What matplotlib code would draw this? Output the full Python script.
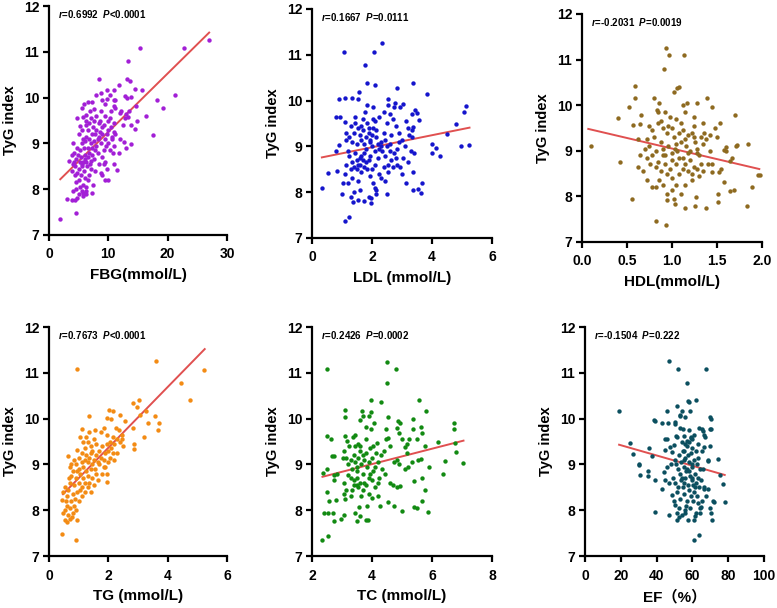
import matplotlib
matplotlib.use("Agg")
import matplotlib.pyplot as plt
import numpy as np

plt.rcParams['font.family'] = ['Liberation Sans', 'Noto Sans CJK SC', 'DejaVu Sans']
plt.rcParams['font.weight'] = 'bold'
plt.rcParams['mathtext.fontset'] = 'custom'
plt.rcParams['mathtext.it'] = 'Liberation Sans:italic:bold'
plt.rcParams['mathtext.rm'] = 'Liberation Sans:bold'
plt.rcParams['mathtext.bf'] = 'Liberation Sans:bold'

# ---- data: (x, TyG index) ----
fbg_points = [
    (27.0, 11.26), (22.8, 11.09), (15.4, 11.09), (13.3, 10.79), (8.5, 10.41), (13.2, 10.41), (13.7, 10.36),
    (21.2, 10.06), (18.2, 9.95), (19.3, 9.77), (15.6, 10.17), (14.5, 10.18), (11.8, 10.27), (10.9, 10.17),
    (9.7, 10.17), (9.8, 9.96), (10.9, 9.95), (12.8, 10.03), (13.1, 10.0), (13.9, 10.02), (14.6, 9.82),
    (12.9, 9.64), (13.3, 9.58), (16.3, 9.6), (14.8, 9.5), (13.9, 9.4), (14.5, 9.31), (17.5, 9.18),
    (13.8, 8.98), (12.7, 9.02), (11.5, 8.42), (9.5, 8.2), (12.0, 9.66), (10.9, 9.82), (11.2, 9.77),
    (7.9, 10.06), (6.6, 9.9), (7.2, 9.9), (5.5, 9.77), (5.8, 9.58), (4.8, 9.55), (5.2, 9.37), (6.2, 9.49),
    (1.86, 7.36), (4.56, 7.47), (3.0, 7.79), (3.8, 7.76), (4.4, 7.76), (3.3, 8.62), (5.7, 7.91), (7.3, 7.92),
    (6.2, 7.89),
    (8.8, 9.7), (9.5, 9.6), (10.2, 9.55), (11.0, 9.45), (10.5, 9.35), (9.2, 9.4), (8.4, 9.45), (7.6, 9.5),
    (7.0, 9.55), (6.8, 9.45), (7.4, 9.35), (8.0, 9.3), (8.6, 9.25), (9.0, 9.2), (9.8, 9.2), (10.6, 9.15),
    (11.2, 9.2), (9.4, 9.1), (8.2, 9.1), (7.5, 9.05), (6.8, 9.1), (6.2, 9.15), (5.8, 9.1), (6.0, 9.05),
    (5.5, 9.0), (7.0, 9.0), (8.8, 9.0), (10.0, 9.0), (11.0, 8.95), (10.3, 8.85), (9.2, 8.85), (8.3, 8.8),
    (7.2, 8.75), (6.5, 8.7), (6.0, 8.75), (5.4, 8.7), (4.9, 8.75), (4.2, 8.8), (4.6, 8.65), (5.2, 8.6),
    (5.7, 8.6), (6.3, 8.6), (7.0, 8.62), (7.6, 8.65), (8.4, 8.55), (9.0, 8.7), (9.5, 8.6), (10.8, 8.8),
    (11.0, 8.55), (9.8, 8.45), (8.7, 8.35), (7.8, 8.4), (7.0, 8.45), (6.4, 8.5), (5.6, 8.5), (5.0, 8.45),
    (4.4, 8.5), (4.0, 8.55), (4.8, 8.35), (5.4, 8.3), (6.0, 8.25), (6.8, 8.3), (5.0, 8.2), (4.5, 8.15),
    (5.7, 8.1), (6.3, 8.05), (5.2, 8.05), (4.6, 8.0), (4.0, 7.95), (5.0, 7.9), (5.5, 7.95), (6.6, 8.2),
    (7.4, 8.1), (4.3, 8.3), (3.8, 8.4), (4.2, 8.6), (3.9, 8.75), (4.1, 9.0), (5.0, 9.2), (5.6, 9.3),
    (6.6, 9.3), (7.2, 9.2), (8.0, 9.6), (8.6, 9.5), (9.0, 9.35), (10.0, 9.3), (11.0, 9.25), (6.3, 9.4),
    (5.9, 8.9), (6.6, 8.9), (7.3, 8.9), (8.0, 8.95), (9.6, 8.95), (10.6, 9.1), (5.3, 8.85), (4.7, 8.9),
    (6.9, 8.55), (5.9, 8.4), (6.1, 8.65), (5.5, 8.55), (6.7, 8.8), (7.8, 8.85), (8.5, 9.15), (9.9, 9.5),
    (8.9, 9.95), (9.5, 9.85), (10.4, 9.7), (11.2, 9.95), (12.2, 9.7), (12.5, 9.4), (12.0, 9.1), (11.8, 8.8),
    (13.0, 8.9), (12.8, 9.55), (13.5, 9.7), (10.2, 10.05), (8.8, 10.1), (7.6, 9.75), (6.9, 9.7), (6.2, 9.62),
    (5.9, 9.85), (7.8, 9.2), (9.3, 8.55), (8.9, 8.3), (10.0, 8.2), (6.2, 7.95), (5.7, 7.85), (4.8, 7.8),
]

ldl_points = [
    (1.07, 11.07), (2.07, 11.07), (2.34, 11.25), (1.76, 10.78), (1.85, 10.39), (2.1, 10.34), (3.36, 10.39),
    (3.82, 10.15), (2.85, 10.27), (0.9, 10.03), (1.09, 10.05), (1.32, 10.06), (1.52, 10.04), (1.57, 10.18),
    (0.81, 9.64), (0.93, 9.65), (1.09, 9.54), (0.35, 8.09), (0.54, 8.42), (0.8, 8.91), (0.9, 9.02),
    (0.85, 8.47), (1.0, 7.95), (1.09, 7.36), (1.24, 7.46), (1.37, 7.78), (1.54, 7.82), (1.74, 7.8),
    (1.96, 7.76), (1.98, 7.87), (2.15, 7.96), (2.51, 7.96), (3.38, 8.05), (3.55, 8.07), (3.68, 8.2),
    (3.65, 7.98), (3.15, 8.2), (4.01, 9.06), (4.01, 8.85), (4.28, 8.79), (4.12, 8.96), (4.49, 9.27),
    (4.97, 9.0), (5.24, 9.02), (4.8, 9.49), (5.07, 9.76), (5.12, 9.89), (3.42, 9.8), (3.49, 9.73),
    (3.58, 9.58), (3.36, 9.43), (3.33, 9.21), (3.39, 8.85), (3.36, 8.45), (3.04, 9.93), (2.76, 9.95),
    (2.52, 10.03),
    (1.15, 9.15), (1.25, 9.2), (1.35, 9.1), (1.45, 9.5), (1.55, 9.4), (1.62, 9.45), (1.7, 9.6), (1.78, 9.75),
    (1.85, 9.5), (1.9, 9.3), (1.95, 9.15), (2.0, 9.25), (2.05, 9.4), (2.1, 9.55), (2.15, 9.2), (2.2, 9.05),
    (2.25, 8.95), (2.3, 9.1), (2.4, 9.3), (2.5, 9.5), (2.6, 9.7), (2.7, 9.6), (2.8, 9.45), (2.9, 9.3),
    (3.0, 9.15), (3.1, 9.0), (3.2, 9.4), (2.85, 8.95), (2.75, 8.85), (2.65, 8.7), (2.55, 8.6), (2.45, 8.8),
    (2.35, 8.9), (2.2, 8.75), (2.1, 8.6), (2.0, 8.5), (1.9, 8.7), (1.8, 8.65), (1.7, 8.7), (1.65, 8.8),
    (1.6, 8.75), (1.55, 8.6), (1.5, 8.7), (1.45, 8.85), (1.4, 8.55), (1.35, 8.65), (1.3, 8.5), (1.25, 8.8),
    (1.2, 8.9), (1.15, 8.6), (1.1, 8.4), (1.05, 8.2), (1.2, 8.2), (1.3, 7.9), (1.4, 8.0), (1.55, 8.25),
    (1.65, 8.45), (1.75, 8.55), (1.85, 8.5), (1.95, 8.35), (2.05, 8.2), (2.15, 8.05), (2.3, 8.3),
    (2.45, 8.25), (2.55, 8.45), (2.7, 8.55), (2.85, 8.6), (2.95, 8.55), (3.05, 8.75), (3.2, 8.65),
    (3.3, 8.9), (3.25, 9.25), (2.95, 9.85), (2.75, 9.85), (2.55, 9.9), (2.4, 9.75), (2.25, 9.65),
    (2.05, 9.85), (1.85, 9.9), (1.6, 9.25), (1.5, 9.05), (1.75, 9.05), (1.8, 8.95), (2.0, 9.0), (2.1, 8.9),
    (1.95, 9.1), (2.3, 9.0), (2.6, 9.05), (2.9, 9.1), (2.65, 9.25), (2.45, 9.15), (1.15, 9.3), (1.3, 9.45),
    (1.4, 9.3), (1.65, 9.15), (1.75, 8.85), (1.5, 8.5), (1.35, 8.3), (1.6, 8.05), (1.9, 7.9), (2.1, 8.1),
    (2.25, 8.4), (2.4, 8.55), (2.6, 8.9), (2.8, 8.75), (3.0, 8.4), (3.15, 9.55), (3.35, 9.7), (3.35, 9.35),
    (2.05, 9.6), (1.9, 9.4), (1.7, 9.35), (1.45, 9.65), (1.95, 8.8), (2.15, 9.35), (1.8, 9.2), (1.6, 8.6),
    (2.5, 9.0),
]

hdl_points = [
    (0.10, 9.11), (0.40, 9.71), (0.42, 8.76), (0.56, 7.94), (0.59, 10.42), (0.59, 10.16), (0.52, 9.96),
    (0.66, 9.78), (0.57, 9.56), (0.65, 9.58), (0.93, 11.26), (0.97, 11.1), (1.13, 11.1), (0.91, 10.79),
    (1.06, 10.37), (1.08, 10.4), (0.93, 7.37), (0.82, 7.46), (0.94, 7.92), (1.02, 7.94), (1.03, 7.83),
    (1.14, 7.75), (1.26, 7.8), (1.38, 7.75), (1.27, 7.99), (1.51, 7.88), (1.51, 8.06), (1.83, 7.8),
    (1.89, 8.21), (1.98, 8.46), (1.95, 8.46), (1.84, 9.15), (1.7, 9.78), (1.69, 8.13), (1.64, 8.12),
    (1.67, 8.84), (1.65, 8.78), (1.58, 9.01), (1.6, 9.08), (1.53, 9.6), (1.44, 9.96), (1.39, 10.16),
    (1.28, 10.04), (1.17, 10.04), (1.71, 9.1), (1.72, 9.13), (1.58, 8.32), (1.52, 8.54), (1.44, 8.54),
    (0.72, 9.25), (0.75, 9.1), (0.78, 9.45), (0.8, 9.3), (0.82, 9.0), (0.84, 9.6), (0.85, 9.85), (0.86, 10.05),
    (0.8, 10.15), (0.83, 9.9), (0.88, 9.2), (0.9, 9.05), (0.92, 8.9), (0.94, 9.4), (0.96, 9.55), (0.98, 9.75),
    (1.0, 9.5), (1.02, 9.3), (1.04, 9.15), (1.06, 9.0), (1.08, 8.85), (1.1, 9.6), (1.12, 9.45), (1.14, 9.25),
    (1.16, 9.1), (1.18, 8.95), (1.2, 8.8), (1.22, 9.4), (1.24, 9.55), (1.26, 9.2), (1.28, 9.05), (1.3, 8.9),
    (1.32, 9.3), (1.34, 9.15), (1.36, 9.4), (1.38, 9.25), (1.4, 8.7), (1.42, 9.35), (1.25, 8.65), (1.22, 8.5),
    (1.18, 8.55), (1.15, 8.7), (1.12, 8.6), (1.08, 8.5), (1.05, 8.7), (1.0, 8.8), (0.98, 8.6), (0.95, 8.5),
    (0.92, 8.7), (0.88, 8.55), (0.85, 8.75), (0.82, 8.65), (0.78, 8.9), (0.76, 8.7), (0.72, 8.85), (0.7, 9.05),
    (0.68, 8.55), (0.72, 8.35), (0.78, 8.2), (0.82, 8.2), (0.86, 8.35), (0.9, 8.25), (0.95, 8.05), (1.0, 8.15),
    (1.05, 8.25), (1.1, 8.05), (1.15, 8.25), (1.22, 8.35), (1.28, 8.6), (1.32, 8.7), (1.35, 8.55), (1.3, 8.45),
    (1.0, 8.95), (0.96, 9.1), (1.03, 9.05), (1.1, 9.2), (1.2, 9.0), (1.25, 9.3), (1.08, 9.4), (0.9, 9.5),
    (0.88, 9.65), (1.05, 9.7), (1.15, 9.85), (1.25, 9.75), (1.35, 9.6), (1.42, 9.0), (1.45, 8.7), (1.5, 9.3),
    (1.48, 9.5), (1.6, 9.0), (1.55, 8.6), (0.62, 9.25), (0.65, 8.9), (0.62, 8.65), (0.75, 9.55), (0.92, 9.85),
    (1.02, 10.3), (1.12, 10.0), (1.0, 8.4), (0.9, 8.9), (1.18, 9.35), (1.28, 8.95), (1.12, 8.85),
]

tg_points = [
    (3.6, 11.25), (5.24, 11.07), (0.96, 11.08), (4.44, 10.78), (4.74, 10.4), (2.83, 10.35), (3.02, 10.4),
    (2.96, 10.26), (3.07, 10.07), (3.27, 10.16), (3.56, 10.05), (3.33, 9.9), (3.7, 9.9), (3.66, 9.76),
    (3.21, 9.6), (2.83, 9.8), (2.88, 9.44), (2.85, 9.33), (2.02, 10.18), (2.17, 10.16), (1.97, 10.02),
    (2.1, 10.0), (2.38, 10.07), (2.57, 9.95), (1.34, 10.05), (1.1, 9.78), (1.05, 9.6), (0.65, 9.18),
    (0.96, 9.31), (0.43, 7.47), (0.91, 7.36), (0.93, 7.78), (0.54, 7.78), (0.62, 7.75), (0.48, 7.93),
    (0.43, 8.22), (0.46, 8.4), (1.97, 8.62), (1.97, 8.79),
    (0.55, 8.0), (0.6, 8.1), (0.65, 7.9), (0.7, 8.05), (0.75, 8.2), (0.8, 7.95), (0.85, 8.1), (0.7, 7.8),
    (0.78, 7.85), (0.6, 8.3), (0.55, 8.5), (0.65, 8.45), (0.72, 8.6), (0.8, 8.35), (0.88, 8.25), (0.95, 8.4),
    (0.85, 8.55), (0.75, 8.75), (0.7, 8.95), (0.8, 8.85), (0.9, 8.7), (1.0, 8.6), (1.05, 8.8), (1.1, 8.5),
    (1.15, 8.7), (1.2, 8.6), (1.0, 8.9), (0.9, 9.0), (1.1, 9.05), (1.15, 8.95), (1.25, 8.85), (1.3, 8.75),
    (1.35, 8.6), (1.4, 8.9), (1.2, 9.1), (1.25, 9.2), (1.3, 9.05), (1.35, 9.15), (1.4, 9.25), (1.45, 9.0),
    (1.5, 9.1), (1.55, 8.9), (1.6, 9.2), (1.65, 9.05), (1.7, 9.3), (1.75, 9.15), (1.8, 9.4), (1.85, 9.1),
    (1.9, 9.25), (1.95, 9.45), (2.0, 9.3), (2.05, 9.5), (2.1, 9.35), (2.15, 9.6), (2.2, 9.45), (2.3, 9.55),
    (2.4, 9.5), (2.45, 9.65), (2.5, 9.4), (2.35, 9.75), (2.25, 9.8), (2.15, 9.25), (1.6, 9.45), (1.5, 9.55),
    (1.4, 9.4), (1.3, 9.5), (1.2, 9.35), (1.1, 9.25), (1.0, 9.15), (1.55, 9.75), (1.75, 9.7), (1.85, 9.8),
    (1.95, 9.65), (1.45, 8.7), (1.5, 8.55), (1.65, 8.65), (1.8, 8.8), (1.85, 8.95), (1.2, 8.4), (1.1, 8.3),
    (1.05, 8.45), (1.3, 8.5), (1.0, 8.2), (0.9, 8.0), (0.95, 8.85), (1.25, 9.6), (1.35, 9.7), (1.6, 8.8),
    (1.7, 9.0), (2.0, 9.05), (2.05, 9.15), (1.9, 8.95), (2.3, 9.25), (1.45, 9.3), (1.15, 9.5), (0.85, 9.1),
    (0.75, 9.0), (0.68, 8.7), (0.58, 8.2), (1.4, 8.4), (2.2, 9.1), (2.45, 9.55),
]

tc_points = [
    (4.49, 11.24), (4.8, 11.08), (2.49, 11.08), (4.5, 10.78), (3.96, 10.4), (4.29, 10.36), (5.58, 10.4),
    (5.81, 10.16), (3.1, 10.18), (3.09, 10.04), (3.68, 10.17), (3.7, 10.05), (3.97, 10.15), (3.9, 10.06),
    (3.61, 9.96), (4.06, 9.91), (4.52, 10.03), (4.87, 9.94), (4.93, 9.9), (5.38, 9.99), (3.8, 9.81),
    (3.97, 9.77), (4.47, 9.77), (4.82, 9.8), (4.91, 9.68), (5.38, 9.77), (5.62, 9.81), (5.68, 9.69),
    (6.75, 9.91), (6.75, 9.77), (2.51, 9.63), (2.63, 9.55), (3.11, 9.61), (3.18, 9.52), (3.44, 9.65),
    (3.36, 9.59), (3.8, 9.55), (4.18, 9.47), (4.55, 9.57), (4.47, 9.55), (4.6, 9.4), (5.0, 9.55),
    (5.24, 9.55), (5.49, 9.55), (5.77, 9.41), (6.2, 9.49), (6.78, 9.47), (6.79, 9.27), (7.04, 9.03),
    (6.44, 9.07), (5.89, 8.94), (5.16, 9.45), (5.1, 9.37), (5.16, 9.24), (2.66, 9.18), (2.74, 9.18),
    (3.07, 9.29), (3.04, 9.13), (2.36, 8.82), (2.51, 8.91), (2.72, 8.76), (2.72, 8.67), (2.85, 8.8),
    (2.51, 8.4), (2.57, 8.21), (2.4, 7.93), (2.54, 7.93), (2.71, 7.93), (2.73, 7.76), (2.96, 7.8),
    (3.08, 7.89), (2.34, 7.35), (2.54, 7.44), (2.8, 8.22), (3.1, 8.24), (3.07, 8.36), (3.07, 8.6),
    (3.2, 8.78), (3.4, 8.55), (3.5, 8.55), (3.42, 7.93), (3.49, 7.76), (3.6, 7.88), (3.8, 7.78),
    (3.87, 7.78), (3.58, 8.08), (3.85, 8.1), (4.0, 8.27), (4.2, 8.3), (4.27, 8.1), (4.52, 8.18),
    (4.73, 8.1), (4.99, 7.98), (5.4, 8.07), (5.5, 8.05), (5.68, 8.2), (5.88, 7.97), (5.77, 8.45),
    (6.36, 8.79), (5.4, 8.64), (5.67, 8.7), (5.1, 8.9), (5.2, 8.95), (4.9, 9.0), (4.6, 8.6), (4.7, 8.55),
    (4.85, 8.5), (4.95, 8.52), (4.2, 8.6), (4.25, 8.7), (4.35, 8.9), (4.45, 8.8), (4.1, 8.95), (4.2, 9.05),
    (4.75, 9.05), (4.85, 9.1), (5.35, 9.05), (5.55, 9.1), (5.65, 9.12),
    (3.2, 9.0), (3.3, 9.1), (3.35, 8.9), (3.4, 9.2), (3.45, 9.05), (3.5, 8.85), (3.55, 9.15), (3.6, 9.3),
    (3.65, 9.0), (3.7, 8.8), (3.75, 9.1), (3.8, 9.25), (3.85, 8.95), (3.9, 9.05), (3.95, 9.35), (4.0, 9.15),
    (4.05, 8.85), (3.3, 8.7), (3.4, 8.65), (3.5, 8.7), (3.55, 8.5), (3.6, 8.6), (3.7, 8.45), (3.8, 8.55),
    (3.9, 8.7), (4.0, 8.65), (3.45, 9.4), (3.55, 9.45), (3.25, 9.4), (3.15, 9.15), (3.6, 9.4), (3.7, 9.2),
    (3.35, 8.45), (3.65, 8.3), (3.9, 8.35), (4.1, 8.5), (4.3, 9.2), (4.4, 9.3), (4.15, 9.25), (3.75, 8.6),
    (3.5, 8.95), (3.95, 8.8), (4.05, 9.4), (3.3, 8.3), (3.15, 8.45),
]

ef_points = [
    (47.1, 11.25), (52.0, 11.08), (67.4, 11.08), (57.0, 10.78), (62.2, 10.4), (57.3, 10.39), (57.8, 10.36),
    (19.0, 10.16), (46.0, 10.17), (51.2, 10.27), (54.0, 10.16), (58.8, 10.17), (52.8, 10.05), (53.2, 10.08),
    (55.9, 10.03), (38.5, 9.98), (39.1, 9.94), (43.2, 9.9), (46.2, 9.9), (50.1, 9.93), (50.3, 9.89),
    (69.7, 10.03), (70.2, 10.0), (53.0, 9.8), (54.5, 9.78), (58.1, 9.75), (65.5, 9.78), (65.8, 9.72),
    (69.7, 9.77), (70.3, 9.77), (66.3, 9.65), (67.0, 9.6), (44.8, 9.55), (45.6, 9.55), (50.7, 9.62),
    (51.2, 9.6), (55.5, 9.62), (56.8, 9.52), (59.2, 9.58), (59.6, 9.55), (25.1, 9.47), (27.0, 9.22),
    (30.2, 9.0), (30.0, 8.98), (30.7, 8.77), (35.0, 8.85), (35.0, 8.75), (35.9, 9.35), (37.2, 9.19),
    (39.1, 8.66), (38.9, 7.97), (43.2, 8.46), (44.9, 8.67), (44.0, 8.84), (44.7, 9.31), (47.1, 7.9),
    (48.8, 8.33), (50.3, 8.12), (51.2, 7.94), (51.2, 7.78), (52.5, 7.86), (55.9, 8.0), (55.9, 7.95),
    (57.7, 7.78), (60.9, 7.36), (63.9, 7.45), (61.0, 7.78), (61.5, 7.87), (61.8, 7.94), (64.0, 8.04),
    (64.6, 8.06), (70.0, 8.05), (70.4, 7.95), (71.0, 7.79), (71.7, 8.2), (72.2, 8.18), (78.4, 8.17),
    (76.9, 8.57), (75.4, 8.77), (74.1, 9.12), (68.9, 9.1), (68.5, 9.08), (66.1, 8.91), (66.3, 8.5),
    (66.6, 8.46), (68.9, 8.47), (66.2, 9.38), (69.8, 9.4), (63.3, 9.45), (65.2, 9.3), (47.5, 9.38),
    (48.8, 9.28), (49.5, 9.42),
    (50.0, 9.1), (51.0, 9.0), (52.0, 8.9), (52.5, 9.2), (53.0, 8.8), (53.5, 9.05), (54.0, 8.7), (54.5, 9.3),
    (55.0, 8.95), (55.5, 8.6), (56.0, 9.15), (56.5, 8.85), (57.0, 9.4), (57.5, 8.55), (58.0, 9.05),
    (58.5, 8.75), (59.0, 9.25), (59.5, 8.65), (60.0, 8.95), (60.5, 8.55), (61.0, 9.1), (61.5, 8.8),
    (62.0, 8.6), (62.5, 9.0), (63.0, 8.7), (63.5, 8.5), (64.0, 8.9), (64.5, 8.65), (60.0, 9.35), (58.0, 9.5),
    (56.0, 9.45), (54.0, 9.5), (62.0, 9.3), (61.0, 8.4), (59.0, 8.3), (57.0, 8.2), (55.0, 8.35), (53.0, 8.25),
    (58.0, 8.45), (60.5, 8.2), (62.5, 8.3), (54.5, 8.5), (52.0, 8.5), (50.5, 8.6), (49.0, 8.7), (48.0, 9.0),
    (51.5, 8.4), (56.5, 8.1), (58.5, 8.05), (57.5, 9.2), (55.5, 9.3), (59.5, 9.0), (63.0, 9.15), (53.5, 8.65),
    (60.0, 8.7), (61.5, 8.5), (56.0, 8.7), (57.0, 8.9), (58.0, 8.85), (55.0, 9.1), (59.0, 9.6), (61.0, 9.65),
    (63.5, 9.8), (46.0, 8.95), (47.0, 8.6), (49.5, 8.2), (65.5, 8.2), (67.5, 8.3), (63.0, 8.15), (64.0, 7.95),
    (52.5, 8.05), (54.0, 7.9),
]

panel_points = [fbg_points, ldl_points, hdl_points, tg_points, tc_points, ef_points]
x_labels = ['FBG(mmol/L)', 'LDL (mmol/L)', 'HDL(mmol/L)', 'TG (mmol/L)', 'TC (mmol/L)', 'EF\uff08%\uff09']
r_texts = ['0.6992', '0.1667', '-0.2031', '0.7673', '0.2426', '-0.1504']
p_texts = ['<0.0001', '=0.0111', '=0.0019', '<0.0001', '=0.0002', '=0.222']
x_ticks = [[0, 10, 20, 30], [0, 2, 4, 6], [0.0, 0.5, 1.0, 1.5, 2.0],
           [0, 2, 4, 6], [2, 4, 6, 8], [0, 20, 40, 60, 80, 100]]
y_ticks = [7, 8, 9, 10, 11, 12]
# fitted lines as drawn: slope, intercept, x start, x end
fit_slope = [0.1276, 0.132, -0.463, 0.663, 0.168, -0.01119]
fit_intercept = [7.975, 8.716, 9.512, 8.038, 8.335, 9.643]
fit_start = [1.9, 0.33, 0.07, 0.47, 2.35, 19.0]
fit_end = [27.0, 5.25, 1.97, 5.25, 7.05, 78.0]

colors = ['#a21fd6', '#1515cc', '#8e6a20', '#f38b14', '#128a12', '#0b4f5f']
line_color = '#e05050'

# axes boxes in figure fractions
boxes = [
    [0.0631, 0.6135, 0.229, 0.3766],
    [0.4015, 0.6086, 0.2317, 0.3766],
    [0.749, 0.602, 0.2317, 0.375],
    [0.0631, 0.0855, 0.229, 0.3766],
    [0.4015, 0.0855, 0.2317, 0.3766],
    [0.753, 0.0855, 0.2304, 0.3766],
]

fig = plt.figure(figsize=(7.77, 6.08), dpi=100)

for i in range(6):
    ax = fig.add_axes(boxes[i])
    pts = np.array(panel_points[i])
    ax.scatter(pts[:, 0], pts[:, 1], s=10, color=colors[i], linewidths=0, zorder=3, clip_on=False)

    xs = np.array([fit_start[i], fit_end[i]])
    ax.plot(xs, fit_slope[i] * xs + fit_intercept[i], color=line_color, lw=1.4, zorder=2)

    ax.set_xlim(x_ticks[i][0], x_ticks[i][-1])
    ax.set_ylim(7, 12)
    ax.set_xticks(x_ticks[i])
    if i == 2:
        ax.set_xticklabels(['%.1f' % t for t in x_ticks[i]])
    ax.set_yticks(y_ticks)

    for side in ['top', 'right']:
        ax.spines[side].set_visible(False)
    for side in ['left', 'bottom']:
        ax.spines[side].set_linewidth(1.6)
    ax.tick_params(axis='both', direction='out', length=4, width=1.6, labelsize=10)
    ax.tick_params(axis='x', pad=5)
    ax.tick_params(axis='y', pad=3)
    for lab in ax.get_xticklabels() + ax.get_yticklabels():
        lab.set_fontweight('bold')

    ax.set_ylabel('TyG index', fontsize=10.5, fontweight='bold', labelpad=5)
    ax.set_xlabel(x_labels[i], fontsize=11, fontweight='bold', labelpad=5)

    ax.text(0.05, 0.965, r'$\mathit{r}$=' + r_texts[i] + '  ' + r'$\mathit{P}$' + p_texts[i],
            transform=ax.transAxes, fontsize=7, fontweight='bold', va='center', ha='left')

fig.savefig('out.png', dpi=100)
